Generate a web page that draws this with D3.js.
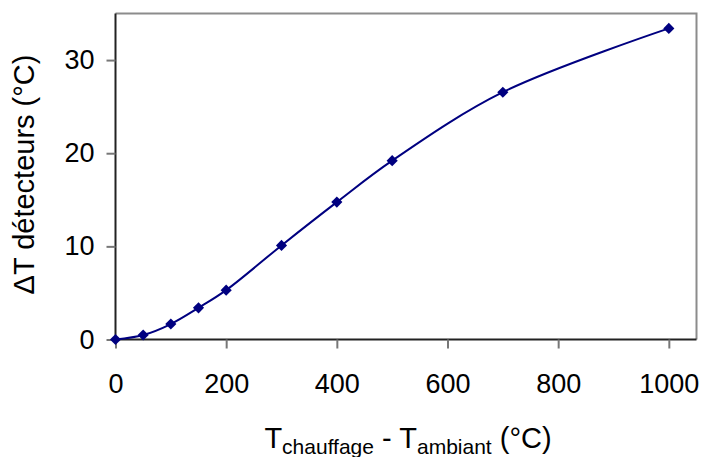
<!DOCTYPE html>
<html><head><meta charset="utf-8">
<script src="https://cdn.jsdelivr.net/npm/d3@7"></script>
<style>body{margin:0;background:#fff}svg{display:block}text{font-family:"Liberation Sans",Arial,sans-serif}</style>
</head><body>
<svg id="c" width="707" height="457"></svg>
<script>
const xValues = [0, 50, 100, 150, 200, 300, 400, 500, 700, 1000];
const yValues = [0, 0.48, 1.66, 3.4, 5.3, 10.1, 14.75, 19.2, 26.55, 33.4];
const xTicks = [0, 200, 400, 600, 800, 1000];
const yTicks = [0, 10, 20, 30];

const svg = d3.select("#c");
const L = 115.5, R = 696.5, T = 13.5, B = 339.5;
const x = d3.scaleLinear().domain([0, 1050]).range([L, R]);
const y = d3.scaleLinear().domain([0, 35]).range([B, T]);

svg.append("path").attr("d", `M${L},${T}H${R}V${B}`).attr("fill","none").attr("stroke","#8c8c8c").attr("stroke-width",2);

const xAxis = svg.append("g").attr("transform", `translate(0,${B})`)
  .call(d3.axisBottom(x).tickValues(xTicks).tickSize(9).tickPadding(44).tickFormat(d3.format("d")));
const yAxis = svg.append("g").attr("transform", `translate(${L},0)`)
  .call(d3.axisLeft(y).tickValues(yTicks).tickSize(9).tickPadding(12).tickFormat(d3.format("d")));
[xAxis, yAxis].forEach(g => {
  g.select(".domain").attr("stroke","#222").attr("stroke-width",2);
  g.selectAll(".tick line").attr("stroke","#777").attr("stroke-width",2);
  g.selectAll(".tick text").attr("fill","#000").style("font-size","27px");
});
xAxis.select(".domain").attr("d", `M${L},0H${R}`);
yAxis.select(".domain").attr("d", `M0,${B}V${T}`);
xAxis.selectAll(".tick text").attr("dy","0");

const line = d3.line().x((d,i)=>x(xValues[i])).y(d=>y(d)).curve(d3.curveCatmullRom.alpha(0.5));
svg.append("path").datum(yValues).attr("d", line).attr("fill","none").attr("stroke","#000080").attr("stroke-width",2);

svg.append("g").selectAll("path").data(yValues).join("path")
  .attr("d", d3.symbol(d3.symbolSquare, 62)())
  .attr("transform",(d,i)=>`translate(${x(xValues[i])},${y(d)}) rotate(45)`)
  .attr("fill","#000080");

const xt = svg.append("text").attr("x",(L+R)/2 + 2).attr("y",448).attr("text-anchor","middle").style("font-size","29px").attr("fill","#000");
xt.append("tspan").text("T");
xt.append("tspan").text("chauffage").style("font-size","21px").attr("dy",6);
xt.append("tspan").text(" - T").attr("dy",-6);
xt.append("tspan").text("ambiant").style("font-size","21px").attr("dy",6);
xt.append("tspan").text(" (°C)").attr("dy",-6);

svg.append("text").attr("transform",`translate(34,${(T+B)/2 - 2}) rotate(-90)`).attr("text-anchor","middle")
  .style("font-size","29px").attr("fill","#000").text("ΔT détecteurs (°C)");
</script>
</body></html>
